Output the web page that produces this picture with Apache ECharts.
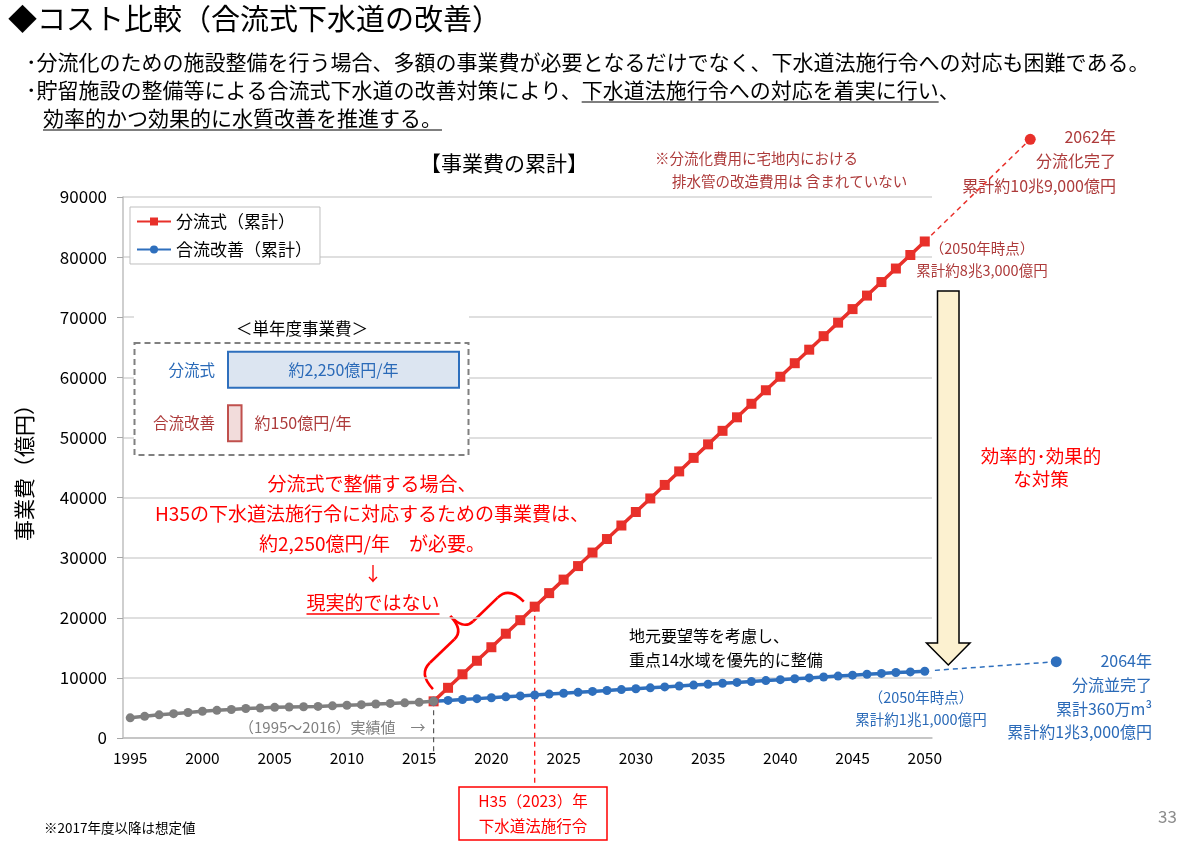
<!DOCTYPE html>
<html>
<head>
<meta charset="utf-8">
<title>コスト比較</title>
<script src="https://cdn.jsdelivr.net/npm/echarts@6/dist/echarts.min.js"></script>
<style>
  html, body { margin: 0; padding: 0; background: #fff; }
  #main { width: 1200px; height: 846px; }
</style>
</head>
<body>
<div id="main"></div>
<script>
// 年（カテゴリ）
const years = ['1995', '1996', '1997', '1998', '1999', '2000', '2001', '2002', '2003', '2004',
    '2005', '2006', '2007', '2008', '2009', '2010', '2011', '2012', '2013', '2014',
    '2015', '2016', '2017', '2018', '2019', '2020', '2021', '2022', '2023', '2024',
    '2025', '2026', '2027', '2028', '2029', '2030', '2031', '2032', '2033', '2034',
    '2035', '2036', '2037', '2038', '2039', '2040', '2041', '2042', '2043', '2044',
    '2045', '2046', '2047', '2048', '2049', '2050']

// 実績値 1995〜2016（億円）
const actualValues = [3350, 3600, 3850, 4050, 4250, 4450, 4600, 4750, 4900, 5000,
    5100, 5150, 5200, 5250, 5350, 5450, 5550, 5650, 5750, 5850, 5950, 6100]

// 分流式（累計） 2016〜2050
const separateValues = [6100, 8350, 10600, 12850, 15100, 17350, 19600, 21850, 24100, 26350,
    28600, 30850, 33100, 35350, 37600, 39850, 42100, 44350, 46600, 48850,
    51100, 53350, 55600, 57850, 60100, 62350, 64600, 66850, 69100, 71350,
    73600, 75850, 78100, 80350, 82600]

// 合流改善（累計） 2016〜2050
const combinedValues = [6100, 6250, 6400, 6550, 6700, 6850, 7000, 7150, 7300, 7450,
    7600, 7750, 7900, 8050, 8200, 8350, 8500, 8650, 8800, 8950,
    9100, 9250, 9400, 9550, 9700, 9850, 10000, 10150, 10300, 10450,
    10600, 10750, 10900, 11000, 11100]

// 2050年以降の延長（図上の位置で読んだ値）
const separateExtension = [[2050, 82600], [2057.3, 99600]]
const combinedExtension = [[2050.7, 11250], [2059.1, 12700]]

// 縦の補助線
const guide2016 = [[2016, 6100], [2016, -2300]]
const guide2023 = [[2023, 21850], [2023, -8000]]

// 単年度事業費（億円/年）
const insetNames = ['分流式', '合流改善']
const insetValues = [2250, 150]

const yTicks = { min: 0, max: 90000, interval: 10000 }

const FONT = "'Noto Sans CJK JP', 'Noto Sans CJK SC', sans-serif"
const RED = '#e8302a'
const BLUE = '#2e6fbd'
const GRAY = '#7f7f7f'
const DARKRED = '#ad3a3a'
const TXTBLUE = '#2a6ab8'

;(function () {
    const myChart = echarts.init(document.getElementById('main'))

    const ctx = document.createElement('canvas').getContext('2d')
    function textW (str, size) {
        ctx.font = size + 'px ' + FONT
        return ctx.measureText(str).width
    }

    const pad = n => Array(n).fill('-')
    const startIdx = years.indexOf('2016')

    // 延長線の終点だけ点を打つ
    const extData = arr => arr.map((p, i) => ({
        value: p,
        symbol: i === arr.length - 1 ? 'circle' : 'none',
        symbolSize: 11
    }))

    function txt (str, x, y, size, color, align, extra) {
        return Object.assign({
            type: 'text', x: x, y: y, z: 6,
            style: {
                text: str, fill: color, fontSize: size, fontFamily: FONT,
                textAlign: align || 'left', textVerticalAlign: 'middle'
            }
        }, extra || {})
    }
    function line (x1, y1, x2, y2, color, w, dash) {
        const style = { stroke: color, lineWidth: w || 1.5 }
        if (dash) style.lineDash = dash
        return { type: 'line', z: 6, shape: { x1: x1, y1: y1, x2: x2, y2: y2 }, style: style }
    }

    // 波かっこ（ローカル座標で描いて回転）
    const braceStyle = { stroke: '#ff0000', lineWidth: 2.6, fill: 'none' }
    function curve (x1, y1, cx, cy, x2, y2) {
        return { type: 'bezierCurve', shape: { x1: x1, y1: y1, cpx1: cx, cpy1: cy, x2: x2, y2: y2 }, style: braceStyle }
    }
    function seg (x1, y1, x2, y2) {
        return { type: 'line', shape: { x1: x1, y1: y1, x2: x2, y2: y2 }, style: braceStyle }
    }
    const brace = {
        type: 'group', x: 418.4, y: 673.9, rotation: 0.766, z: 6,
        children: [
            curve(0, 21, 0, 0, 16, 0),
            seg(16, 0, 50, 0),
            curve(50, 0, 63, 0, 63, -19.5),
            curve(63, -19.5, 63, 0, 76, 0),
            seg(76, 0, 110, 0),
            curve(110, 0, 126, 0, 126, 21)
        ]
    }

    // 見出し
    const bulletSize = 21
    const b2a = '･貯留施設の整備等による合流式下水道の改善対策により、'
    const b2b = '下水道法施行令への対応を着実に行い'
    const b3 = '効率的かつ効果的に水質改善を推進する。'
    const u2x = 26 + textW(b2a, bulletSize)
    const u2w = textW(b2b, bulletSize)
    const u3w = textW(b3, bulletSize)

    const noteSize = 19
    const noteLast = '現実的ではない'
    const noteLastW = textW(noteLast, noteSize)

    const graphics = [
        txt('◆コスト比較（合流式下水道の改善）', 8, 19, 29, '#000'),
        txt('･分流化のための施設整備を行う場合、多額の事業費が必要となるだけでなく、下水道法施行令への対応も困難である。', 26, 62, bulletSize, '#000'),
        txt(b2a + b2b + '、', 26, 90, bulletSize, '#000'),
        line(u2x, 102, u2x + u2w, 102, '#000', 1.2),
        txt(b3, 43, 118, bulletSize, '#000'),
        line(43, 130, 43 + u3w, 130, '#000', 1.2),
        txt('【事業費の累計】', 504, 163, 21, '#000', 'center'),

        // 単年度事業費の枠
        { type: 'rect', z: 1, shape: { x: 134, y: 306, width: 335, height: 150 }, style: { fill: '#fff' } },
        { type: 'rect', z: 3, shape: { x: 134.5, y: 343, width: 334, height: 112 }, style: { fill: 'none', stroke: '#808080', lineWidth: 2, lineDash: [6, 4] } },
        txt('＜単年度事業費＞', 302, 329, 16.5, '#000', 'center'),

        // 注記（赤）
        txt('分流式で整備する場合、', 372, 484, noteSize, '#ff0000', 'center'),
        txt('H35の下水道法施行令に対応するための事業費は、', 372, 514, noteSize, '#ff0000', 'center'),
        txt('約2,250億円/年　が必要。', 372, 544, noteSize, '#ff0000', 'center'),
        txt('↓', 373, 574, noteSize, '#ff0000', 'center'),
        txt(noteLast, 373, 603, noteSize, '#ff0000', 'center'),
        line(373 - noteLastW / 2, 614, 373 + noteLastW / 2, 614, '#ff0000', 1.5),

        brace,

        txt('（1995～2016）実績値　→', 239, 727, 15, '#808080'),
        txt('地元要望等を考慮し、', 629, 636, 16, '#000'),
        txt('重点14水域を優先的に整備', 629, 660, 16, '#000'),

        // H35 枠
        { type: 'rect', z: 6, shape: { x: 459, y: 787, width: 148, height: 53 }, style: { fill: '#fff', stroke: '#ff0000', lineWidth: 1.5 } },
        txt('H35（2023）年', 533, 801, 15.5, '#ff0000', 'center', { z: 7 }),
        txt('下水道法施行令', 533, 826, 15.5, '#ff0000', 'center', { z: 7 }),

        // 右側の注記
        txt('※分流化費用に宅地内における', 655, 158, 14.5, DARKRED),
        txt('排水管の改造費用は 含まれていない', 672, 181, 14.5, DARKRED),
        txt('2062年', 1116, 137, 16, DARKRED, 'right'),
        txt('分流化完了', 1116, 161, 16, DARKRED, 'right'),
        txt('累計約10兆9,000億円', 1116, 186, 16, DARKRED, 'right'),
        txt('（2050年時点）', 982, 248, 14.5, DARKRED, 'center'),
        txt('累計約8兆3,000億円', 982, 270, 14.5, DARKRED, 'center'),

        // 大きな矢印
        {
            type: 'polygon', z: 5,
            shape: { points: [[937.5, 291], [959, 291], [959, 643], [970, 643], [948.3, 665], [926.5, 643], [937.5, 643]] },
            style: { fill: '#fcf1d0', stroke: '#000', lineWidth: 1.5 }
        },
        txt('効率的･効果的', 1041, 456, 18.5, '#ff0000', 'center'),
        txt('な対策', 1041, 479, 18.5, '#ff0000', 'center'),

        txt('（2050年時点）', 921, 697, 14.5, TXTBLUE, 'center'),
        txt('累計約1兆1,000億円', 921, 719, 14.5, TXTBLUE, 'center'),
        txt('2064年', 1152, 661, 16, TXTBLUE, 'right'),
        txt('分流並完了', 1152, 685, 16, TXTBLUE, 'right'),
        txt('累計360万m³', 1152, 709, 16, TXTBLUE, 'right'),
        txt('累計約1兆3,000億円', 1152, 732, 16, TXTBLUE, 'right'),

        txt('※2017年度以降は想定値', 44, 828, 13.5, '#000'),
        txt('33', 1158, 817, 17, '#8c8c8c')
    ]

    const option = {
        animation: false,
        textStyle: { fontFamily: FONT },
        legend: {
            data: ['分流式（累計）', '合流改善（累計）'],
            orient: 'vertical',
            left: 130,
            top: 207,
            itemGap: 11,
            itemWidth: 34,
            itemHeight: 10,
            padding: [6, 8, 6, 6],
            borderColor: '#bfbfbf',
            borderWidth: 1,
            backgroundColor: '#fff',
            textStyle: { fontSize: 17, color: '#000', fontFamily: FONT }
        },
        grid: [
            { left: 123, right: 268, top: 197, bottom: 108 },
            { left: 227, width: 233, top: 343, height: 107 }
        ],
        xAxis: [
            {
                type: 'category',
                gridIndex: 0,
                data: years,
                boundaryGap: true,
                axisLine: { lineStyle: { color: '#bfbfbf', width: 1.5 } },
                axisTick: { interval: 0, length: 6, lineStyle: { color: '#a6a6a6' } },
                axisLabel: { interval: 4, fontSize: 15.5, color: '#000', margin: 12, fontFamily: FONT }
            },
            {
                type: 'value',
                gridIndex: 0,
                min: 1994.5,
                max: 2050.5,
                show: false
            },
            {
                type: 'value',
                gridIndex: 1,
                min: 0,
                max: 2250,
                show: false
            }
        ],
        yAxis: [
            {
                type: 'value',
                gridIndex: 0,
                min: yTicks.min,
                max: yTicks.max,
                interval: yTicks.interval,
                name: '事業費（億円）',
                nameLocation: 'middle',
                nameGap: 88,
                nameTextStyle: { fontSize: 21, color: '#000', fontFamily: FONT },
                axisLine: { show: true, lineStyle: { color: '#bfbfbf', width: 1.5 } },
                axisTick: { show: true, length: 6, lineStyle: { color: '#a6a6a6' } },
                axisLabel: { fontSize: 17, color: '#000', margin: 16, fontFamily: FONT, formatter: v => String(v) },
                splitLine: { lineStyle: { color: '#d4d4d4', width: 1.5 } }
            },
            {
                type: 'category',
                gridIndex: 1,
                inverse: true,
                z: 4,
                data: [
                    { value: insetNames[0], textStyle: { color: TXTBLUE } },
                    { value: insetNames[1], textStyle: { color: DARKRED } }
                ],
                axisLine: { show: false },
                axisTick: { show: false },
                axisLabel: { fontSize: 15.5, margin: 12, fontFamily: FONT }
            }
        ],
        series: [
            {
                name: '分流式（累計）',
                type: 'line',
                xAxisIndex: 0,
                yAxisIndex: 0,
                symbol: 'rect',
                symbolSize: 10,
                showAllSymbol: true,
                color: RED,
                lineStyle: { width: 3.5, color: RED },
                itemStyle: { color: RED },
                data: pad(startIdx).concat(separateValues)
            },
            {
                name: '合流改善（累計）',
                type: 'line',
                xAxisIndex: 0,
                yAxisIndex: 0,
                symbol: 'circle',
                symbolSize: 9,
                showAllSymbol: true,
                color: BLUE,
                lineStyle: { width: 3.5, color: BLUE },
                itemStyle: { color: BLUE },
                data: pad(startIdx).concat(combinedValues)
            },
            {
                name: '実績値',
                type: 'line',
                xAxisIndex: 0,
                yAxisIndex: 0,
                z: 4,
                symbol: 'circle',
                symbolSize: 9,
                showAllSymbol: true,
                lineStyle: { width: 3.5, color: GRAY },
                itemStyle: { color: GRAY },
                data: actualValues
            },
            {
                name: '分流式延長',
                type: 'line',
                xAxisIndex: 1,
                yAxisIndex: 0,
                clip: false,
                lineStyle: { opacity: 0 },
                itemStyle: { color: RED },
                data: extData(separateExtension)
            },
            {
                name: '合流改善延長',
                type: 'line',
                xAxisIndex: 1,
                yAxisIndex: 0,
                clip: false,
                lineStyle: { opacity: 0 },
                itemStyle: { color: BLUE },
                data: extData(combinedExtension)
            },
            {
                name: '2016',
                type: 'line',
                xAxisIndex: 1,
                yAxisIndex: 0,
                clip: false,
                symbol: 'none',
                z: 1,
                lineStyle: { width: 1.2, type: [5, 4], color: '#595959' },
                data: guide2016
            },
            {
                name: '2023',
                type: 'line',
                xAxisIndex: 1,
                yAxisIndex: 0,
                clip: false,
                symbol: 'none',
                z: 1,
                lineStyle: { width: 1.2, type: [5, 4], color: '#ff0000' },
                data: guide2023
            },
            {
                name: '単年度事業費',
                type: 'bar',
                xAxisIndex: 2,
                yAxisIndex: 1,
                barWidth: 38,
                z: 3,
                data: [
                    {
                        value: insetValues[0],
                        itemStyle: { color: '#dce5f1', borderColor: '#2e6fbd', borderWidth: 2 },
                        label: { show: true, position: 'inside', color: TXTBLUE, fontSize: 16 }
                    },
                    {
                        value: insetValues[1],
                        itemStyle: { color: '#f2dcdb', borderColor: '#c0504d', borderWidth: 2 },
                        label: { show: true, position: 'right', distance: 12, color: DARKRED, fontSize: 16 }
                    }
                ],
                label: {
                    fontFamily: FONT,
                    formatter: p => '約' + p.value.toLocaleString('en-US') + '億円/年'
                }
            }
        ],
        graphic: graphics
    }
    myChart.setOption(option)

    // 延長の破線：軸のスケールで位置を求めて描く（グリッド外まで伸ばすため）
    const toPx = p => myChart.convertToPixel({ seriesIndex: 3 }, p)
    const r0 = toPx(separateExtension[0])
    const r1 = toPx(separateExtension[1])
    const c0 = toPx(combinedExtension[0])
    const c1 = toPx(combinedExtension[1])
    myChart.setOption({
        graphic: graphics.concat([
            line(r0[0], r0[1], r1[0], r1[1], RED, 1.5, [5, 4]),
            line(c0[0], c0[1], c1[0], c1[1], BLUE, 1.5, [5, 4])
        ])
    })
})()
</script>
</body>
</html>
